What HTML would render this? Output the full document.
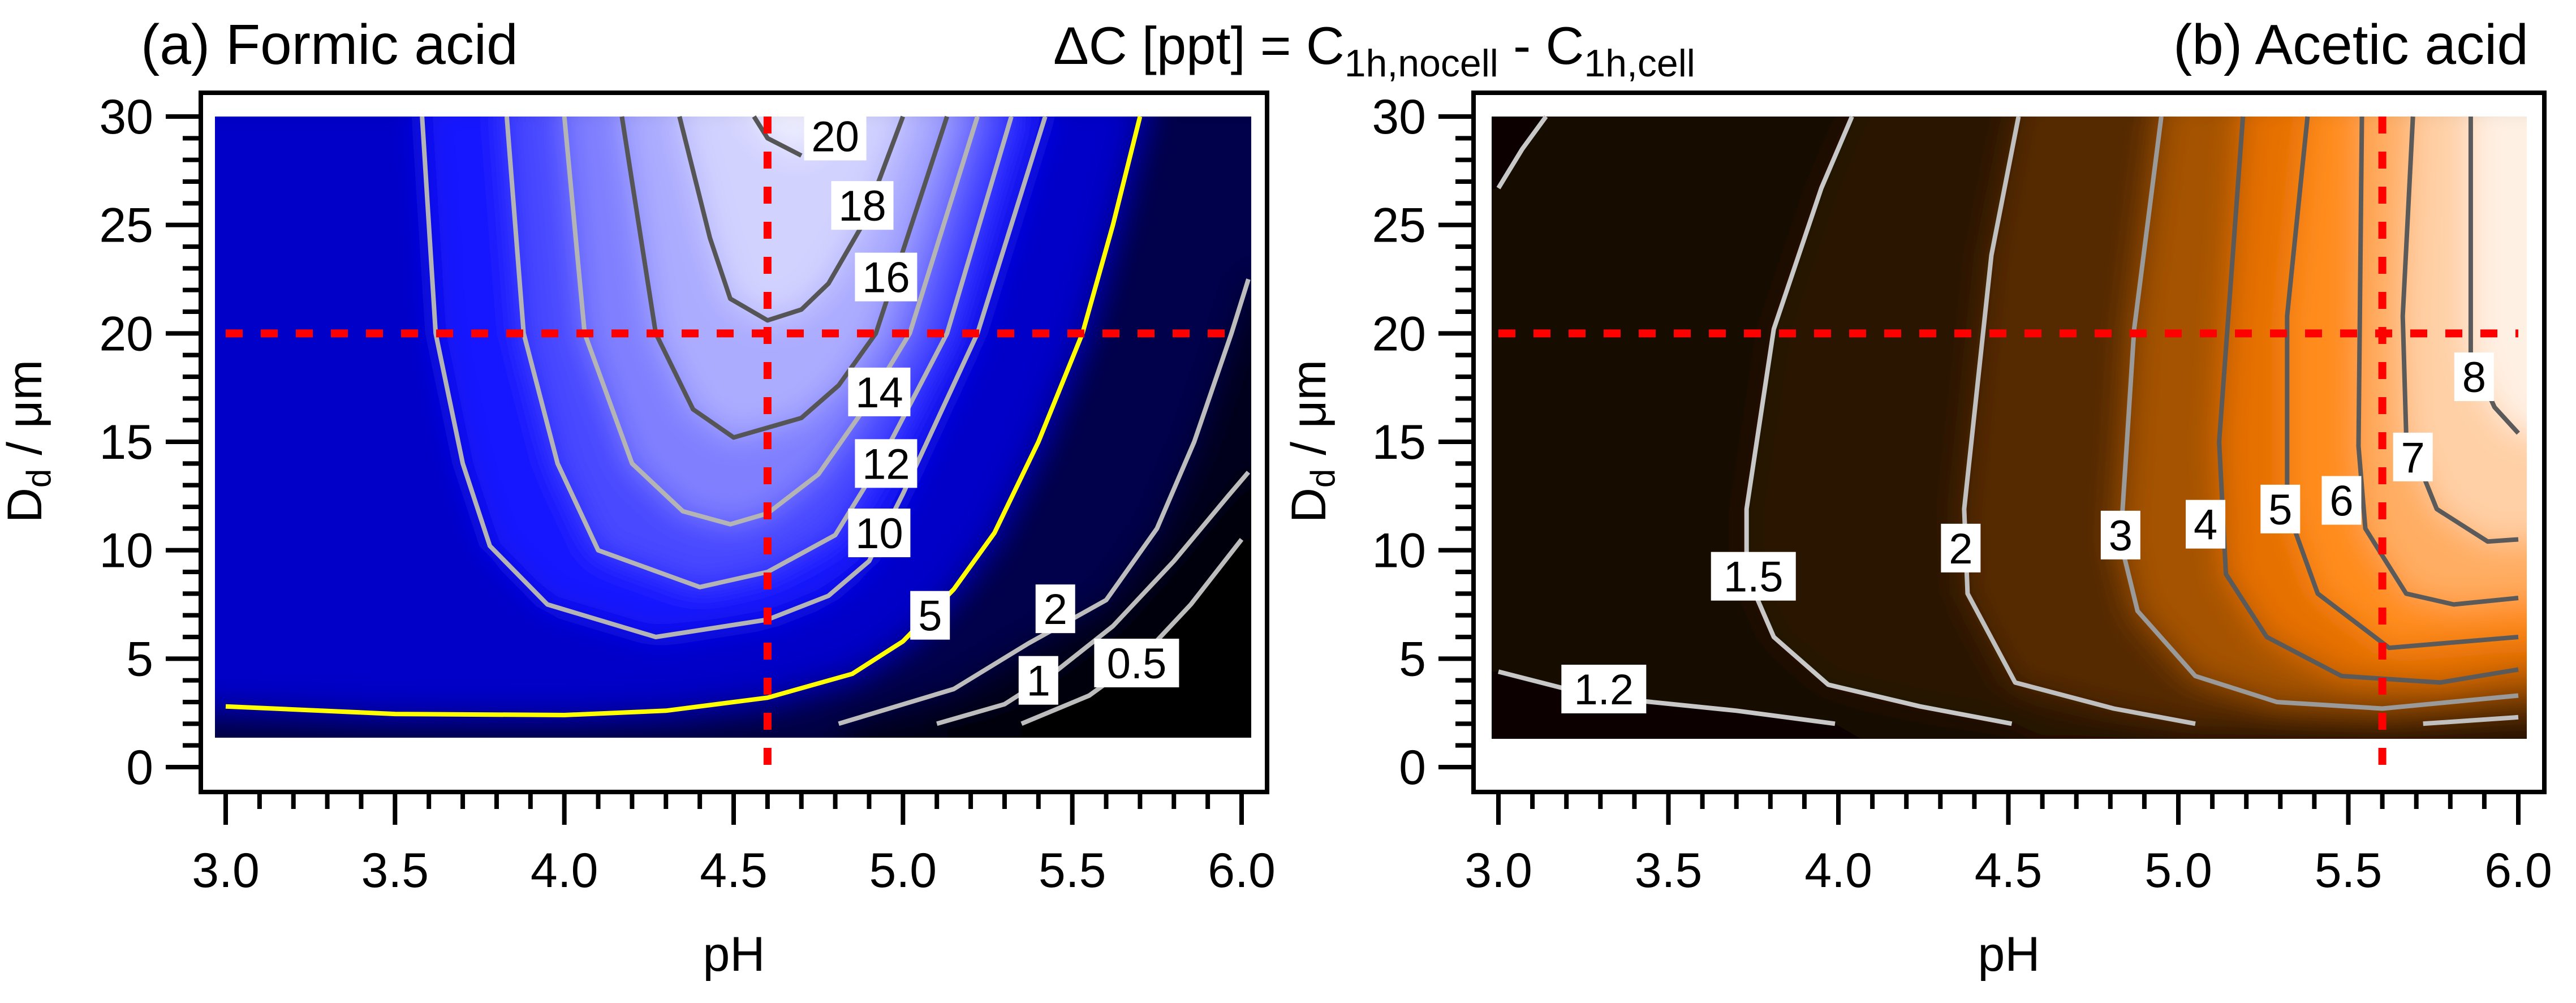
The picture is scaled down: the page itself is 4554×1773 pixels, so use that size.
<!DOCTYPE html>
<html><head><meta charset="utf-8"><style>
html,body{margin:0;padding:0;background:#fff;}
svg{display:block;font-family:"Liberation Sans",Arial,sans-serif;}
</style></head><body>
<svg id="chart" width="4554" height="1773" viewBox="0 0 4554 1773" xmlns="http://www.w3.org/2000/svg">
<defs>
<filter id="blur" x="-5%" y="-5%" width="110%" height="110%"><feGaussianBlur stdDeviation="28"/></filter>
<clipPath id="clipA"><rect x="380" y="206" width="1832" height="1098"/></clipPath>
<clipPath id="clipB"><rect x="2637" y="206" width="1830" height="1100"/></clipPath>
</defs>
<text x="249" y="113" font-size="100" fill="#000">(a) Formic acid</text>
<text x="1862" y="113" font-size="94" fill="#000">ΔC [ppt] = C<tspan font-size="68" dy="22">1h,nocell</tspan><tspan dy="-22"> - C</tspan><tspan font-size="68" dy="22">1h,cell</tspan></text>
<text x="4470" y="113" font-size="100" text-anchor="end" fill="#000">(b) Acetic acid</text>
<g id="panelA"></g>
<g id="panelB"></g>
</svg>
<script>
// ---------- Panel A (formic acid) data: contour lines as [pH, Dd] ----------
const levelsA = ["0.5","1","2","5","10","12","14","16","18","20"];
const cA05 = [[5.35,2.0],[5.55,3.3],[5.7,5.0],[5.85,7.5],[6.0,10.5]];
const cA1  = [[5.1,2.0],[5.3,2.9],[5.45,4.4],[5.62,6.5],[5.8,9.5],[5.96,12.5],[6.02,13.6]];
const cA2  = [[4.81,2.0],[5.15,3.6],[5.37,5.7],[5.6,7.7],[5.75,11],[5.86,15],[5.97,20],[6.02,22.5]];
const cA5  = [[3.0,2.8],[3.5,2.45],[4.0,2.4],[4.3,2.6],[4.6,3.2],[4.85,4.3],[5.0,5.8],[5.15,8.2],[5.27,10.8],[5.4,15],[5.53,20],[5.62,25],[5.70,30]];
const cA10 = [[3.58,30],[3.62,20],[3.7,14],[3.78,10.2],[3.95,7.5],[4.27,6.0],[4.6,6.8],[4.78,7.9],[4.9,9.5],[5.0,12.6],[5.22,20],[5.42,30]];
const cA12 = [[3.83,30],[3.88,20],[3.98,14],[4.1,10],[4.4,8.3],[4.6,9.0],[4.8,10.7],[4.93,14],[5.13,20],[5.32,30]];
const cA14 = [[4.0,30],[4.06,20],[4.2,14],[4.35,11.8],[4.49,11.2],[4.6,11.7],[4.75,13.5],[4.88,16.4],[5.02,20],[5.22,30]];
const cA16 = [[4.17,30],[4.27,20],[4.38,16.5],[4.5,15.2],[4.7,16.1],[4.81,17.6],[4.92,20],[5.13,30]];
const cA18 = [[4.34,30],[4.43,24.4],[4.49,21.6],[4.6,20.6],[4.7,21.1],[4.78,22.3],[4.88,25],[5.0,30]];
const cA20 = [[4.56,30],[4.6,29],[4.7,28.2]];
const labelPosA = [[5.69,4.8],[5.40,4.0],[5.45,7.3],[5.08,7.0],[4.93,10.8],[4.95,14.0],[4.93,17.3],[4.95,22.6],[4.88,25.9],[4.80,29.1]];
const markA = {pH:4.6, D:20};
// ---------- Panel B (acetic acid) data ----------
const levelsB = ["1.2","1.5","2","3","4","5","6","7","8"];
const cB12t = [[3.14,30],[3.07,28.5],[3.0,26.7]];
const cB12b = [[3.0,4.4],[3.2,3.6],[3.42,3.05],[3.7,2.6],[3.99,2.0]];
const cB15 = [[4.04,30],[3.95,26.7],[3.81,20.2],[3.73,11.9],[3.73,8.9],[3.81,6.0],[3.97,3.8],[4.24,2.8],[4.51,2.0]];
const cB2  = [[4.53,30],[4.45,23.6],[4.37,11.9],[4.38,8.0],[4.52,3.9],[4.81,2.7],[5.05,2.0]];
const cB2b = [[5.72,2.0],[6.0,2.3]];
const cB3  = [[4.95,30],[4.87,20.2],[4.83,10.4],[4.88,7.2],[5.05,4.2],[5.29,3.0],[5.60,2.7],[6.0,3.3]];
const cB4  = [[5.19,30],[5.12,15.0],[5.14,8.9],[5.26,6.0],[5.48,4.2],[5.77,3.9],[6.0,4.5]];
const cB5  = [[5.38,30],[5.32,20.8],[5.32,11.9],[5.41,8.0],[5.62,5.5],[6.0,6.0]];
const cB6  = [[5.54,30],[5.53,14.8],[5.55,11.0],[5.67,8.0],[5.81,7.5],[6.0,7.8]];
const cB7  = [[5.69,30],[5.66,20.8],[5.67,15.4],[5.76,11.9],[5.91,10.4],[6.0,10.5]];
const cB8  = [[5.86,30],[5.86,19.0],[5.93,16.6],[6.0,15.4]];
const labelPosB = [[3.31,3.6],[3.75,8.8],[4.36,10.1],[4.83,10.7],[5.08,11.2],[5.30,11.9],[5.48,12.3],[5.69,14.3],[5.87,18.0]];
const markB = {pH:5.6, D:20};
// tick values
const xTicks = [3.0,3.5,4.0,4.5,5.0,5.5,6.0];
const yTicks = [0,5,10,15,20,25,30];

const NS="http://www.w3.org/2000/svg";
function mk(parent,tag,attrs){const e=document.createElementNS(NS,tag);for(const k in attrs)e.setAttribute(k,attrs[k]);parent.appendChild(e);return e;}
function makePanel(x0,x1,fl,fr){
  const y0=1356,y30=206;
  return {fx:p=>x0+(p-3)/3*(x1-x0), fy:d=>y0-d/30*(y0-y30), fl:fl, fr:fr, ft:164, fb:1400, x0:x0};
}
const PA=makePanel(399,2195,355,2240);
const PB=makePanel(2649,4452,2605,4498);
function pts(arr,P){return arr.map(q=>P.fx(q[0]).toFixed(1)+','+P.fy(q[1]).toFixed(1)).join(' ');}

function drawFill(g,P,clip,base,regions,colors,name){
  const outer=mk(g,'g',{'clip-path':'url(#'+clip+')'});
  
  
  const inner=mk(outer,'g',{filter:'url(#blur)'});
  mk(inner,'rect',{x:P.fx(2.6),y:P.fy(34),width:P.fx(6.4)-P.fx(2.6),height:P.fy(-2)-P.fy(34),fill:base});
  regions.forEach((r,i)=>{
    const e=mk(inner,'polygon',{points:pts(r,P),fill:colors[i]});
    
    
  });
}
function drawLines(g,P,lines,names){
  lines.forEach((l,i)=>{
    const e=mk(g,'polyline',{points:pts(l.d,P),fill:'none',stroke:l.c,'stroke-width':8,'stroke-linejoin':'round','stroke-linecap':'butt'});
    
    
  });
}
function drawLabels(g,P,levels,pos){
  levels.forEach((t,i)=>{
    const cx=P.fx(pos[i][0]),cy=P.fy(pos[i][1]);
    const w=t.length*40+30,h=86;
    const r=mk(g,'rect',{x:cx-w/2,y:cy-h/2,width:w,height:h,fill:'#fff'});
    
    
    const tx=mk(g,'text',{x:cx,y:cy+27,'font-size':76,'text-anchor':'middle',fill:'#000'});
    tx.textContent=t;
    
    
  });
}
function drawMarks(g,P,m){
  const v=mk(g,'line',{x1:P.fx(m.pH),x2:P.fx(m.pH),y1:P.fy(30),y2:P.fy(0),stroke:'#ff0000','stroke-width':14,'stroke-dasharray':'30 32'});
  
  
  const h=mk(g,'line',{x1:P.fx(3),x2:P.fx(6),y1:P.fy(m.D),y2:P.fy(m.D),stroke:'#ff0000','stroke-width':14,'stroke-dasharray':'30 32'});
  
  
}
function drawAxes(g,P,labelX){
  const f=mk(g,'rect',{x:P.fl,y:P.ft,width:P.fr-P.fl,height:P.fb-P.ft,fill:'none',stroke:'#000','stroke-width':8});
  
  
  for(let i=0;i<=30;i++){
    const y=P.fy(i),maj=i%5===0;
    const t=mk(g,'line',{x1:P.fl-(maj?62:32),x2:P.fl,y1:y,y2:y,stroke:'#000','stroke-width':8});
    
    
  }
  yTicks.forEach(v=>{
    const t=mk(g,'text',{x:P.fl-84,y:P.fy(v)+30,'font-size':86,'text-anchor':'end',fill:'#000'});
    t.textContent=String(v);
    
    
  });
  for(let i=0;i<=30;i++){
    const x=P.fx(3+i*0.1),maj=i%5===0;
    const t=mk(g,'line',{x1:x,x2:x,y1:P.fb,y2:P.fb+(maj?58:30),stroke:'#000','stroke-width':8});
    
    
  }
  xTicks.forEach(v=>{
    const t=mk(g,'text',{x:P.fx(v),y:1568,'font-size':86,'text-anchor':'middle',fill:'#000'});
    t.textContent=v.toFixed(1);
    
    
  });
  const xl=mk(g,'text',{x:(P.fl+P.fr)/2,y:1716,'font-size':86,'text-anchor':'middle',fill:'#000'});
  xl.textContent='pH';
  
  
  const yl=mk(g,'text',{x:0,y:0,'font-size':86,'text-anchor':'middle',fill:'#000',transform:'translate('+(labelX+30)+',780) rotate(-90)'});
  yl.innerHTML='D<tspan font-size="60" dy="16">d</tspan><tspan dy="-16"> / μm</tspan>';
  
  
}

// ----- Panel A -----
const gA=document.getElementById('panelA');
const regA=[
  [[5.35,1.0]].concat(cA05,[[6.2,10.5],[6.2,31],[2.8,31],[2.8,1.0]]),
  [[5.1,1.0]].concat(cA1,[[6.2,13.6],[6.2,31],[2.8,31],[2.8,1.0]]),
  [[4.81,1.0]].concat(cA2,[[6.2,22.5],[6.2,31],[2.8,31],[2.8,1.0]]),
  [[2.8,2.8]].concat(cA5,[[5.72,31],[2.8,31]]),
  [[3.58,31]].concat(cA10,[[5.42,31]]),
  [[3.83,31]].concat(cA12,[[5.32,31]]),
  [[4.0,31]].concat(cA14,[[5.22,31]]),
  [[4.17,31]].concat(cA16,[[5.13,31]]),
  [[4.34,31]].concat(cA18,[[5.0,31]]),
  [[4.5,31]].concat(cA20,[[4.8,30],[4.8,31]])
];
const colA=['#00000e','#00001e','#00004c','#0000c8','#1414ff','#4a4aff','#8080ff','#acacff','#d2d2ff','#eeeeff'];
drawFill(gA,PA,'clipA','#000000',regA,colA,'formic-filled-contours');
drawLines(gA,PA,[
  {d:cA05,c:'#bdbdbd'},{d:cA1,c:'#bdbdbd'},{d:cA2,c:'#bdbdbd'},{d:cA5,c:'#ffff00'},
  {d:cA10,c:'#b4b4b4'},{d:cA12,c:'#b4b4b4'},{d:cA14,c:'#b4b4b4'},
  {d:cA16,c:'#555555'},{d:cA18,c:'#555555'},{d:cA20,c:'#555555'}],levelsA);
drawMarks(gA,PA,markA);
drawLabels(gA,PA,levelsA,labelPosA);
drawAxes(gA,PA,43);

// ----- Panel B -----
const gB=document.getElementById('panelB');
const regB=[
  [[3.2,31]].concat(cB12t,[[2.8,26.0],[2.8,4.5]],cB12b,[[4.1,1.0],[6.2,1.0],[6.2,31]]),
  cB15.concat([[4.6,1.0],[6.2,1.0],[6.2,31],[4.04,31]]),
  cB2.concat(cB2b,[[6.2,2.3],[6.2,31],[4.53,31]]),
  cB3.concat([[6.2,3.4],[6.2,31],[4.95,31]]),
  cB4.concat([[6.2,4.6],[6.2,31],[5.19,31]]),
  cB5.concat([[6.2,6.0],[6.2,31],[5.38,31]]),
  cB6.concat([[6.2,7.8],[6.2,31],[5.54,31]]),
  cB7.concat([[6.2,10.5],[6.2,31],[5.69,31]]),
  cB8.concat([[6.2,15.4],[6.2,31],[5.86,31]])
];
const colB=['#180d04','#2a1506','#562a05','#a55203','#e66f00','#ff8c1c','#ffad62','#ffd0a6','#fff0e4'];
drawFill(gB,PB,'clipB','#0c0602',regB,colB,'acetic-filled-contours');
drawLines(gB,PB,[
  {d:cB12t,c:'#c8c8c8'},{d:cB12b,c:'#c8c8c8'},{d:cB15,c:'#c8c8c8'},{d:cB2,c:'#c0c0c0'},{d:cB2b,c:'#c0c0c0'},
  {d:cB3,c:'#9a9a9a'},{d:cB4,c:'#5a5a5a'},{d:cB5,c:'#5a5a5a'},{d:cB6,c:'#5a5a5a'},{d:cB7,c:'#5a5a5a'},{d:cB8,c:'#5a5a5a'}],
  ['1.2-top','1.2-bottom','1.5','2','2-bottom','3','4','5','6','7','8']);
drawMarks(gB,PB,markB);
drawLabels(gB,PB,levelsB,labelPosB);
drawAxes(gB,PB,2313);
</script>
</body></html>
